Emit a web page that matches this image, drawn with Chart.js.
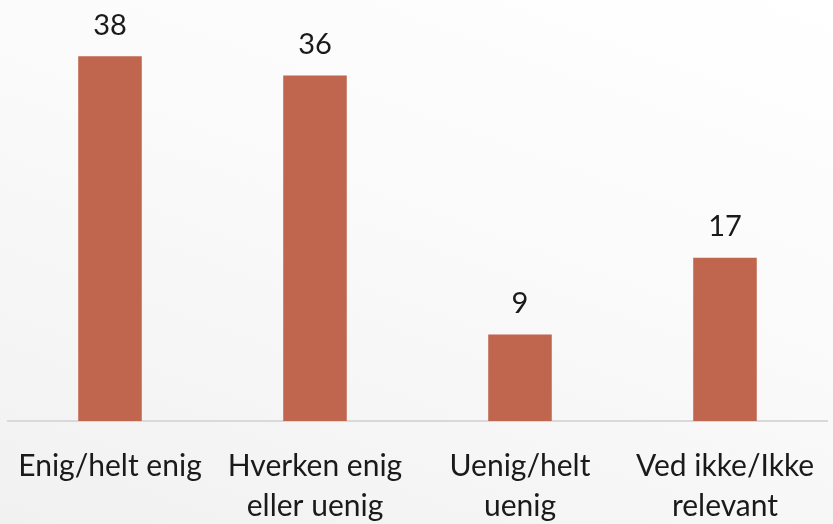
<!DOCTYPE html>
<html>
<head>
<meta charset="utf-8">
<script src="https://cdn.jsdelivr.net/npm/chart.js@4"></script>
<style>
  html, body { margin: 0; padding: 0; }
  body {
    width: 833px; height: 524px; overflow: hidden;
    background: linear-gradient(200deg, #ffffff 0%, #fafafa 45%, #f1f1f1 100%);
  }
  #wrap { position: relative; width: 833px; height: 524px; }
</style>
</head>
<body>
<div id="wrap"><canvas id="chart"></canvas></div>
<script>
const categories = [
  ['Enig/helt enig'],
  ['Hverken enig', 'eller uenig'],
  ['Uenig/helt', 'uenig'],
  ['Ved ikke/Ikke', 'relevant']
];
const values = [38, 36, 9, 17];

const FONT = 'Lato, "Open Sans", sans-serif';

// simple value labels above the bars
const valueLabels = {
  id: 'valueLabels',
  afterDatasetsDraw(chart) {
    const ctx = chart.ctx;
    const meta = chart.getDatasetMeta(0);
    ctx.save();
    ctx.font = '29px ' + FONT;
    ctx.fillStyle = '#1a1a1a';
    ctx.textAlign = 'center';
    ctx.textBaseline = 'middle';
    meta.data.forEach((bar, i) => {
      ctx.fillText(String(values[i]), bar.x, bar.y - 31);
    });
    ctx.restore();
  }
};

new Chart(document.getElementById('chart'), {
  type: 'bar',
  data: {
    labels: categories,
    datasets: [{
      data: values,
      backgroundColor: '#c0654e',
      barPercentage: 0.31,
      categoryPercentage: 1
    }]
  },
  options: {
    responsive: true,
    maintainAspectRatio: false,
    animation: false,
    layout: { padding: { top: 37, left: 7.5, right: 5.5, bottom: 0 } },
    plugins: { legend: { display: false }, tooltip: { enabled: false } },
    scales: {
      x: {
        grid: { display: false },
        border: { color: '#d9d9d9', width: 2 },
        ticks: {
          color: '#1a1a1a',
          font: { family: FONT, size: 30, lineHeight: 1.33 },
          padding: 17,
          maxRotation: 0,
          autoSkip: false
        },
        afterFit(scale) { scale.height = 103; }
      },
      y: { display: false, min: 0, max: 40 }
    }
  },
  plugins: [valueLabels]
});
</script>
</body>
</html>
